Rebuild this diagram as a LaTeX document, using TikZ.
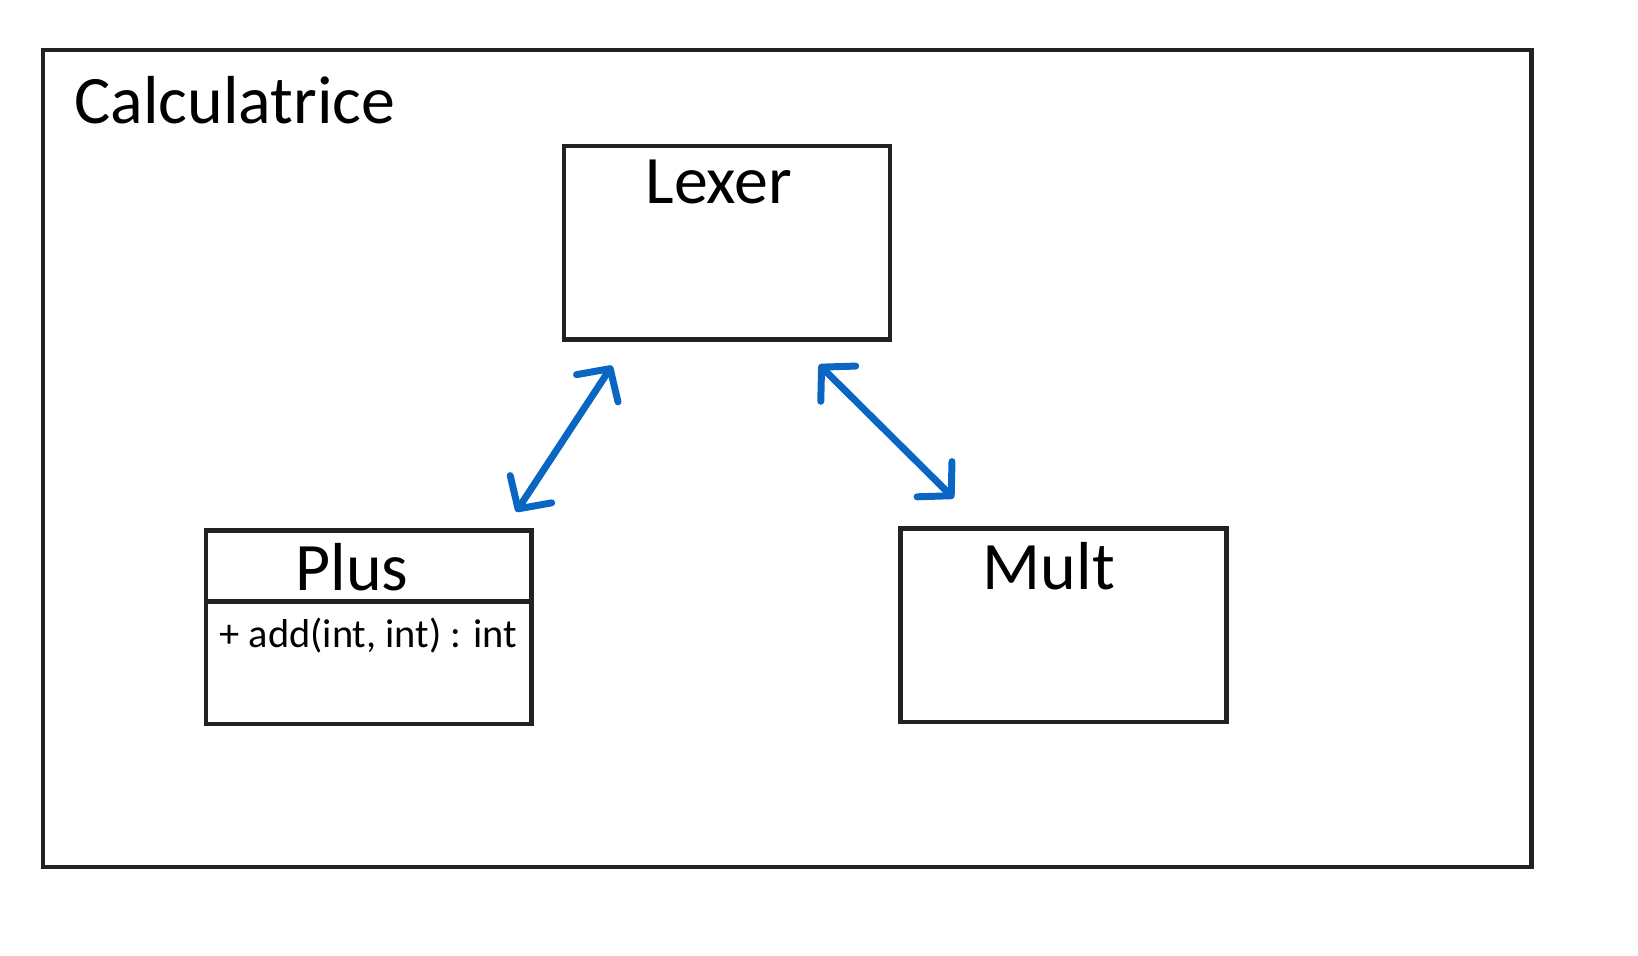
\documentclass[tikz,border=0pt]{standalone}
\usepackage{fontspec}
\setmainfont{Carlito}
\usetikzlibrary{arrows.meta}
\definecolor{boxline}{HTML}{222222}
\definecolor{linkblue}{HTML}{0A66C2}
\begin{document}
\begin{tikzpicture}[x=0.02cm,y=-0.02cm]
\tikzset{box/.style={draw=boxline,line width=2.4pt,minimum width=6.24cm,minimum height=3.7cm,inner sep=0pt}}
\tikzset{title/.style={anchor=base,inner sep=0pt,font=\fontsize{37}{44}\selectfont}}
\tikzset{barb/.tip={Straight Barb[length=0.45cm,width=0.95cm,line cap=round,line join=round]}}
\tikzset{link/.style={draw=linkblue,line width=3.8pt,line cap=round,barb-barb}}
\useasboundingbox (0,0) rectangle (1568,915);
\node[draw=boxline,line width=2.4pt,minimum width=28.5cm,minimum height=15.64cm,inner sep=0pt] (calc) at (753.5,439) {};
\node[title,anchor=base west] (calctitle) at ([shift={(32,72)}]calc.north west) {Calculatrice};
\node[box] (lexer) at (696,232.5) {};
\node[title] (lexertitle) at ([shift={(-8,57)}]lexer.north) {Lexer};
\node[box] (plus) at (353,600.5) {};
\node[title] (plustitle) at ([shift={(-16,59)}]plus.north) {Plus};
\draw[boxline,line width=2.4pt] ([shift={(0,70)}]plus.north west) -- ([shift={(-5,70)}]plus.north east);
\node[anchor=base west,inner sep=0pt,font=\fontsize{22}{26}\selectfont] (plusadd) at ([shift={(15,114)}]plus.north west) {+ add(int, int) : int};
\node[box] (mult) at (1018,598.5) {};
\node[title] (multtitle) at ([shift={(-14,60)}]mult.north) {Mult};
\draw[link] ([shift={(-17,-16)}]plus.north east) -- ([shift={(48,23)}]lexer.south west);
\draw[link] ([shift={(-70,22)}]lexer.south east) -- ([shift={(53,-27)}]mult.north west);
\end{tikzpicture}
\end{document}
